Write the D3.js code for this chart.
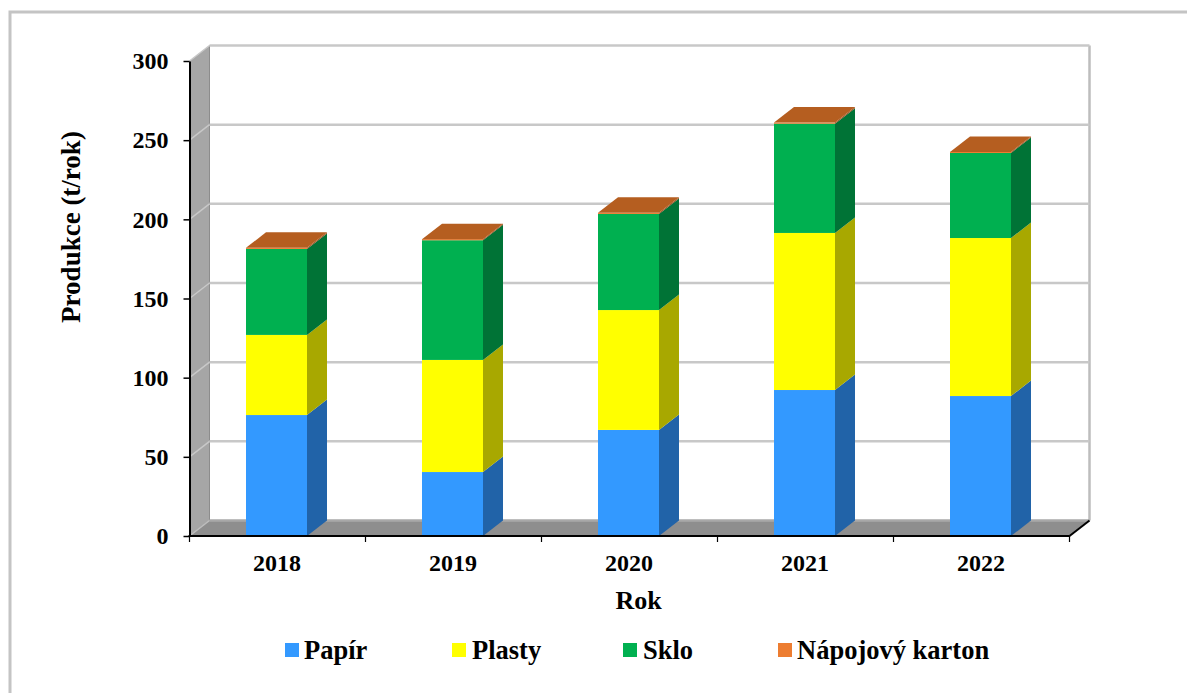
<!DOCTYPE html>
<html><head><meta charset="utf-8">
<script src="https://cdnjs.cloudflare.com/ajax/libs/d3/7.8.5/d3.min.js"></script>
<style>html,body{margin:0;padding:0;background:#fff}svg{display:block}text{font-family:"Liberation Serif",serif;font-weight:bold;fill:#000}</style>
</head><body><svg id="c" width="1187" height="693"></svg>
<script>
const years = ["2018","2019","2020","2021","2022"];
const seriesNames = ["Papír","Plasty","Sklo","Nápojový karton"];
const papir = [76.4,40.4,67,92.2,88.4];
const plasty = [50.6,70.8,75.7,99.2,99.8];
const sklo = [54.3,75.6,60.7,69,53.7];
const karton = [0.7,0.7,0.7,0.7,0.7];
const seriesValues = [papir,plasty,sklo,karton];
const frontColors = ["#3399FF","#FFFF00","#00B050","#ED7D31"];
const sideColors = ["#2163A8","#A8A800","#007336","#9C5220"];
const topColor = "#B55E20";
const yTicks = [0,50,100,150,200,250,300];

const svg = d3.select("#c");
const dx = 20, dy = -15.5;
const x = d3.scaleBand().domain(years).range([189.5,1069.5]);
const y = d3.scaleLinear().domain([0,300]).range([536,61]);
const barW = 61, barOffset = 56.5;
const x0 = x.range()[0], x1 = x.range()[1];

// frame
svg.append("path").attr("d","M10,693V12H1187").attr("fill","none").attr("stroke","#C4C4C4").attr("stroke-width",3);

// left wall, floor
svg.append("polygon").attr("points",[[x0,y(0)],[x0+dx,y(0)+dy],[x0+dx,y(300)+dy],[x0,y(300)]].join(" ")).attr("fill","#A6A6A6");
svg.append("polygon").attr("points",[[x0,y(0)],[x0+dx,y(0)+dy],[x1+dx,y(0)+dy],[x1,y(0)]].join(" ")).attr("fill","#8E8E8E");
svg.append("line").attr("x1",x0+dx).attr("x2",x0+dx).attr("y1",y(300)+dy).attr("y2",y(0)+dy).attr("stroke","#8C8C8C").attr("stroke-width",1);
svg.append("line").attr("x1",x1+dx).attr("x2",x1+dx).attr("y1",y(300)+dy).attr("y2",y(0)+dy).attr("stroke","#BDBDBD").attr("stroke-width",2.5);

// gridlines
yTicks.forEach(t=>{
  const yy=y(t);
  svg.append("path").attr("d",`M${x0},${yy}L${x0+dx},${yy+dy}`).attr("fill","none").attr("stroke",t===0?"#BDBDBD":"#C8C8C8").attr("stroke-width",1.5);
  svg.append("line").attr("x1",x0+dx).attr("x2",x1+dx).attr("y1",yy+dy).attr("y2",yy+dy).attr("stroke",t===0?"#A8A8A8":"#C8C8C8").attr("stroke-width",2.5);
});

// bars
years.forEach((yr,i)=>{
  const bx = x(yr)+barOffset;
  let cum = 0;
  seriesValues.forEach((vals,s)=>{
    const a = y(cum), b = y(cum+vals[i]);
    cum += vals[i];
    svg.append("polygon").attr("points",[[bx+barW,a],[bx+barW+dx,a+dy],[bx+barW+dx,b+dy],[bx+barW,b]].join(" ")).attr("fill",sideColors[s]);
    svg.append("rect").attr("x",bx).attr("y",b).attr("width",barW).attr("height",a-b).attr("fill",frontColors[s]);
  });
  const t = y(cum);
  svg.append("polygon").attr("points",[[bx,t],[bx+dx,t+dy],[bx+barW+dx,t+dy],[bx+barW,t]].join(" ")).attr("fill",topColor);
});

// axes
const yAxis = d3.axisLeft(y).tickValues(yTicks).tickSize(6).tickSizeOuter(0).tickPadding(15);
const gy = svg.append("g").attr("transform",`translate(${x0},0)`).call(yAxis);
gy.selectAll("text").attr("font-size",24).attr("font-family","Liberation Serif").attr("font-weight","bold").attr("dy","0.32em");
gy.select(".domain").attr("stroke","#000").attr("stroke-width",2);
gy.selectAll(".tick line").attr("stroke","#000").attr("stroke-width",1.5);

const xb = d3.scaleLinear().domain([0,years.length]).range([x0,x1]);
svg.append("g").selectAll("line").data(d3.range(years.length+1)).join("line")
  .attr("x1",d=>xb(d)).attr("x2",d=>xb(d)).attr("y1",y(0)).attr("y2",y(0)+6).attr("stroke","#000").attr("stroke-width",1.2);
svg.append("line").attr("x1",x0-1).attr("x2",x1).attr("y1",y(0)).attr("y2",y(0)).attr("stroke","#000").attr("stroke-width",2);
svg.append("line").attr("x1",x1).attr("x2",x1+dx).attr("y1",y(0)).attr("y2",y(0)+dy).attr("stroke","#000").attr("stroke-width",2);

svg.append("g").selectAll("text").data(years).join("text")
  .attr("x",d=>x(d)+barOffset+barW/2+0.5).attr("y",571).attr("text-anchor","middle").attr("font-size",24).text(d=>d);

svg.append("text").attr("x",638.5).attr("y",609).attr("text-anchor","middle").attr("font-size",26).text("Rok");
svg.append("text").attr("transform","translate(80,227) rotate(-90)").attr("text-anchor","middle").attr("font-size",27).text("Produkce (t/rok)");

// legend
const swatchX = [285,452,623,778];
const labelX = [304,472,643,797];
seriesNames.forEach((n,i)=>{
  svg.append("rect").attr("x",swatchX[i]).attr("y",643).attr("width",14).attr("height",14).attr("fill",frontColors[i]);
  svg.append("text").attr("x",labelX[i]).attr("y",659).attr("font-size",26.5).text(n);
});
</script></body></html>
